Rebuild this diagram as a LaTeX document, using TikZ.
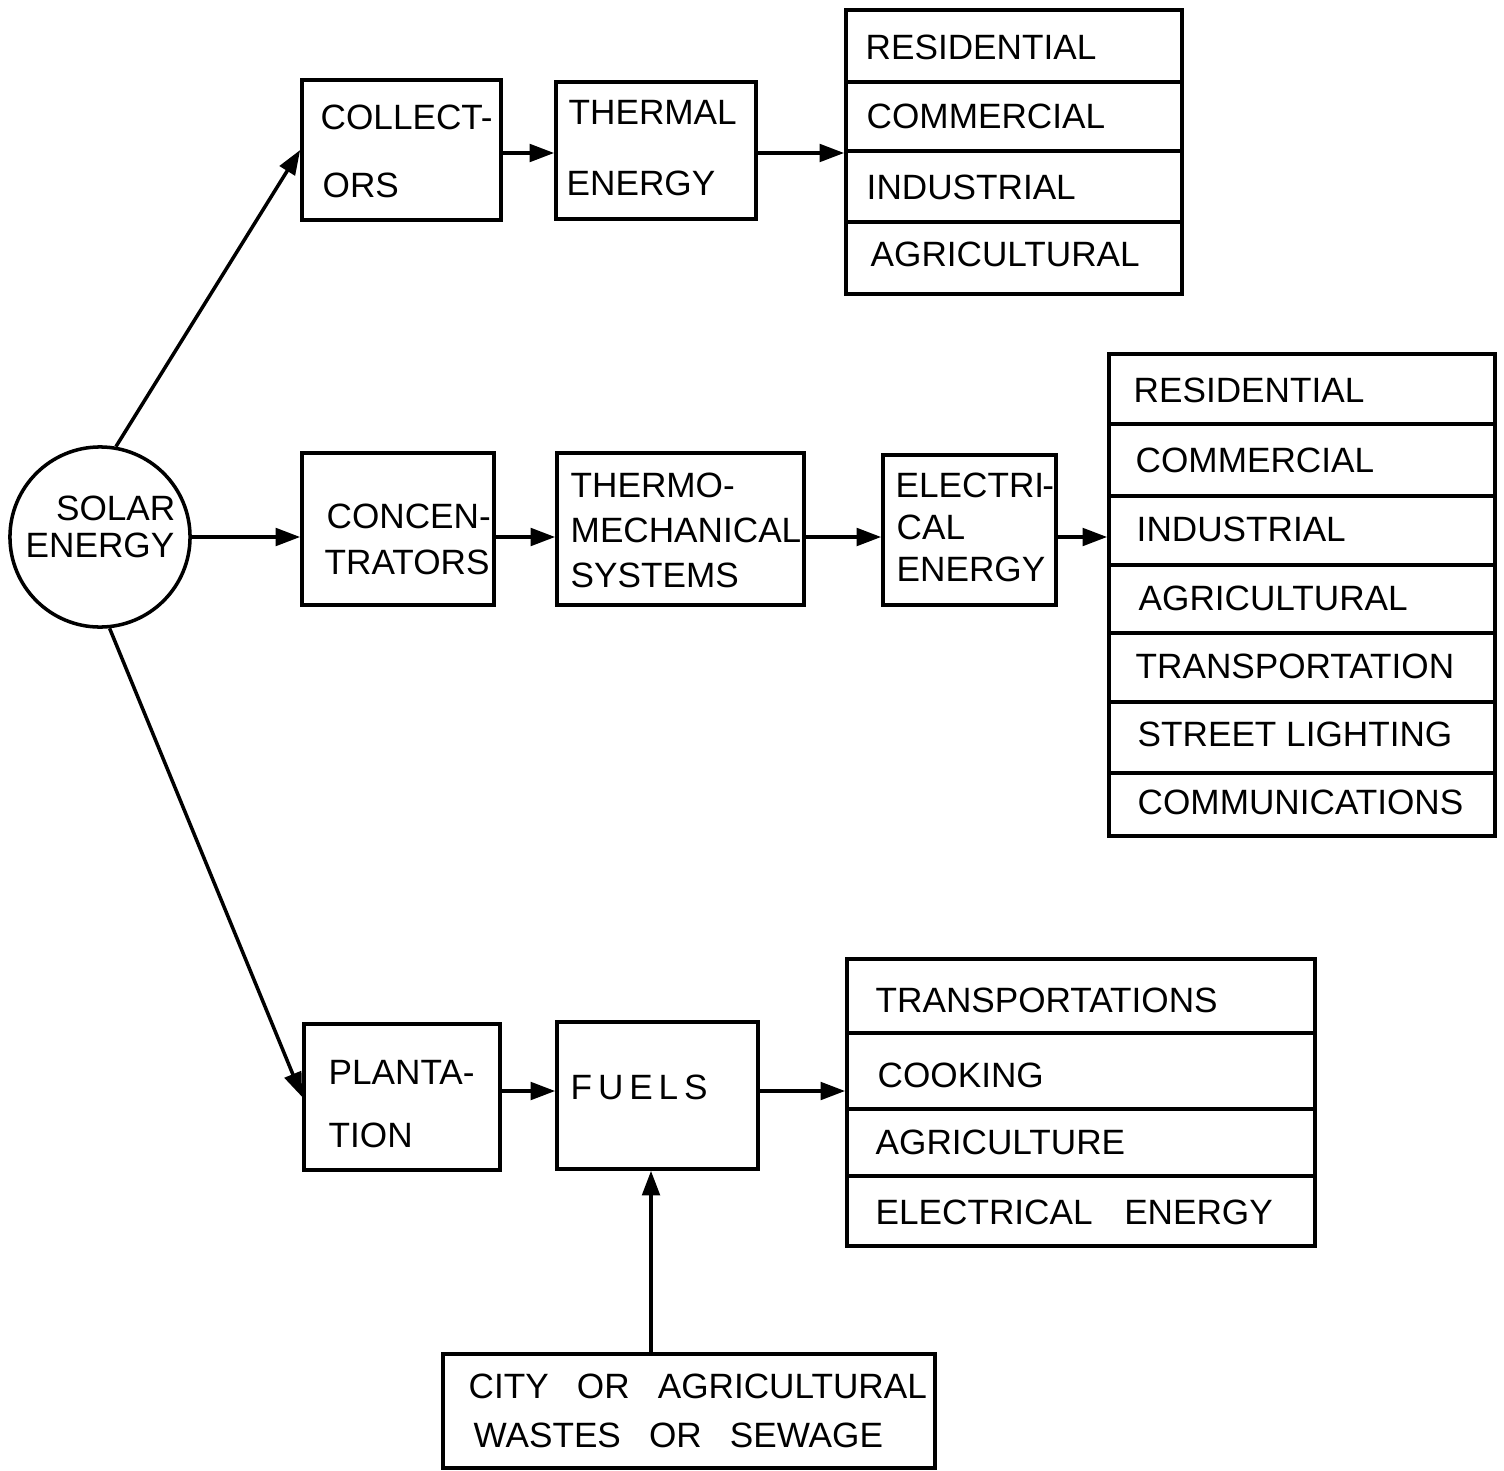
\documentclass[tikz,border=0pt]{standalone}
\usepackage{fontspec}
\setmainfont{Liberation Sans}
\usetikzlibrary{arrows.meta,calc}
\tikzset{
  box/.style={draw, line width=1pt, rectangle, inner sep=0},
  lbl/.style={anchor=west, inner sep=0, font=\fontsize{10}{12}\selectfont},
  arr/.style={line width=1pt, -{Triangle[length=7pt,width=5pt]}},
  sep/.style={line width=1pt}
}
\begin{document}
\begin{tikzpicture}[x=0.01cm,y=-0.01cm]
\useasboundingbox (0,0) rectangle (1504,1470);
% solar circle
\node[draw, line width=1pt, circle, minimum size=1.8cm, inner sep=0] (sol) at (100,537) {};
\node[lbl, anchor=east] (t-sol1) at (176,508) {SOLAR};
\node[lbl] (t-sol2) at (25,545) {ENERGY};

% ---------- top row
\node[box, minimum width=1.99cm, minimum height=1.40cm] (col) at (401.5,150) {};
\node[lbl] (t-col1) at (320,117) {COLLECT-};
\node[lbl] (t-col2) at (322,185) {ORS};
\node[box, minimum width=2.00cm, minimum height=1.37cm] (the) at (656,150.5) {};
\node[lbl] (t-the1) at (568,112) {THERMAL};
\node[lbl] (t-the2) at (566,183) {ENERGY};
\node[box, minimum width=3.36cm, minimum height=2.84cm] (l1) at (1014,152) {};
\draw[sep] (846,82) -- (1182,82);
\draw[sep] (846,151) -- (1182,151);
\draw[sep] (846,222) -- (1182,222);
\node[lbl] (l1a) at (865,47) {RESIDENTIAL};
\node[lbl] (l1b) at (866,116) {COMMERCIAL};
\node[lbl] (l1c) at (866,187) {INDUSTRIAL};
\node[lbl] (l1d) at (870,254) {AGRICULTURAL};
\draw[arr] (sol.80) -- (col.west);
\draw[arr] (col.east |- 0,153) -- (the.west |- 0,153);
\draw[arr] (the.east |- 0,153) -- (l1.west |- 0,153);

% ---------- middle row
\node[box, minimum width=1.92cm, minimum height=1.52cm] (con) at (398,529) {};
\node[lbl] (t-con1) at (326,516) {CONCEN-};
\node[lbl] (t-con2) at (324,562) {TRATORS};
\node[box, minimum width=2.47cm, minimum height=1.52cm] (tms) at (680.5,529) {};
\node[lbl] (t-tms1) at (570,485) {THERMO-};
\node[lbl] (t-tms2) at (570,530) {MECHANICAL};
\node[lbl] (t-tms3) at (570,575) {SYSTEMS};
\node[box, minimum width=1.73cm, minimum height=1.50cm] (ele) at (969.5,530) {};
\node[lbl] (t-ele1) at (895,485) {ELECTRI\kern-0.5pt-};
\node[lbl] (t-ele2) at (896,527) {CAL};
\node[lbl] (t-ele3) at (896,569) {ENERGY};
\node[box, minimum width=3.86cm, minimum height=4.82cm] (l2) at (1302,595) {};
\foreach \yy in {424,496,565,633,702,773}{\draw[sep] (1109,\yy) -- (1495,\yy);}
\node[lbl] (l2a) at (1133,390) {RESIDENTIAL};
\node[lbl] (l2b) at (1135,460) {COMMERCIAL};
\node[lbl] (l2c) at (1136,529) {INDUSTRIAL};
\node[lbl] (l2d) at (1138,598) {AGRICULTURAL};
\node[lbl] (l2e) at (1135,666) {TRANSPORTATION};
\node[lbl] (l2f) at (1137,734) {STREET LIGHTING};
\node[lbl] (l2g) at (1137,802) {COMMUNICATIONS};
\draw[arr] (sol.east) -- (sol.east -| con.west);
\draw[arr] (con.east |- sol.east) -- (tms.west |- sol.east);
\draw[arr] (tms.east |- sol.east) -- (ele.west |- sol.east);
\draw[arr] (ele.east |- sol.east) -- (l2.west |- sol.east);

% ---------- bottom row
\node[box, minimum width=1.96cm, minimum height=1.46cm] (pla) at (402,1097) {};
\node[lbl] (t-pla1) at (328,1072) {PLANTA-};
\node[lbl] (t-pla2) at (328,1135) {TION};
\node[box, minimum width=2.01cm, minimum height=1.47cm] (fue) at (657.5,1095.5) {};
\node[lbl] (t-fue) at (570,1087) {F\,U\,E\,L\,S};
\node[box, minimum width=4.68cm, minimum height=2.87cm] (l3) at (1081,1102.5) {};
\draw[sep] (847,1033) -- (1315,1033);
\draw[sep] (847,1109) -- (1315,1109);
\draw[sep] (847,1176) -- (1315,1176);
\node[lbl] (l3a) at (875,1000) {TRANSPORTATIONS};
\node[lbl] (l3b) at (877,1075) {COOKING};
\node[lbl] (l3c) at (875,1142) {AGRICULTURE};
\node[lbl] (l3d) at (875,1212) {ELECTRICAL\hspace{9pt}ENERGY};
\node[box, minimum width=4.92cm, minimum height=1.14cm] (was) at (689,1411) {};
\node[lbl] (t-was1) at (468,1386) {CITY\hspace{8pt}OR\hspace{8pt}AGRICULTURAL};
\node[lbl] (t-was2) at (473,1435) {WASTES\hspace{8pt}OR\hspace{8pt}SEWAGE};
\draw[arr] (sol.-84) -- (pla.west);
\draw[arr] (pla.east |- 0,1091) -- (fue.west |- 0,1091);
\draw[arr] (fue.east |- 0,1091) -- (l3.west |- 0,1091);
\draw[arr] (was.north -| 651,0) -- (fue.south -| 651,0);
\end{tikzpicture}
\end{document}
